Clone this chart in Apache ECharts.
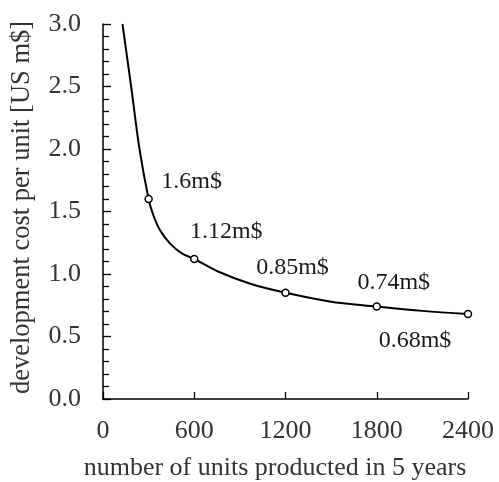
<!DOCTYPE html>
<html>
<head>
<meta charset="utf-8">
<script src="https://cdn.jsdelivr.net/npm/echarts@6/dist/echarts.min.js"></script>
<style>
html,body{margin:0;padding:0;background:#fff;}
#chart{width:499px;height:482px;}
</style>
</head>
<body>
<div id="chart"></div>
<script>
// Data
const curveX = [128, 185, 240, 300, 331, 375, 440, 517, 600, 756, 974, 1200, 1490, 1800, 2100, 2400];
const curveY = [3.0, 2.5, 2.0, 1.6, 1.47, 1.35, 1.245, 1.166, 1.12, 1.02, 0.92, 0.85, 0.78, 0.74, 0.705, 0.68];
const pointX = [300, 600, 1200, 1800, 2400];
const pointY = [1.6, 1.12, 0.85, 0.74, 0.68];
const pointLabels = ['1.6m$', '1.12m$', '0.85m$', '0.74m$', '0.68m$'];
const xTicks = ['0', '600', '1200', '1800', '2400'];
const yTicks = ['0.0', '0.5', '1.0', '1.5', '2.0', '2.5', '3.0'];
const xTitle = 'number of units producted in 5 years';
const yTitle = 'development cost per unit [US m$]';

const FONT = 'Liberation Serif';
const AX = '#333333';
const LB = '#1a1a1a';
const labelOffsets = [[43, -17], [32, -27], [7, -25], [17, -24], [-53, 27]];

const chart = echarts.init(document.getElementById('chart'), null, {renderer: 'canvas'});
chart.setOption({
  animation: false,
  backgroundColor: '#fff',
  grid: {left: 103, right: 31, top: 24, bottom: 83, containLabel: false, outerBoundsMode: 'none'},
  xAxis: {
    type: 'value', min: 0, max: 2400, interval: 600,
    name: xTitle, nameLocation: 'middle', nameGap: 56,
    nameTextStyle: {fontFamily: FONT, fontSize: 26, color: AX, padding: [0, 21, 0, 0]},
    axisLine: {show: true, lineStyle: {color: '#000', width: 1.5}},
    axisTick: {show: true, inside: true, length: 7, lineStyle: {color: '#000', width: 1.3}},
    splitLine: {show: false},
    axisLabel: {fontFamily: FONT, fontSize: 26, color: AX, margin: 19,
      formatter: v => xTicks[Math.round(v / 600)]}
  },
  yAxis: {
    type: 'value', min: 0, max: 3, interval: 0.5,
    name: yTitle, nameLocation: 'middle', nameGap: 67, nameRotate: 90,
    nameTextStyle: {fontFamily: FONT, fontSize: 26.5, color: AX, padding: [0, 0, 0, 8]},
    axisLine: {show: true, lineStyle: {color: '#000', width: 1.5}},
    axisTick: {show: true, inside: true, length: 8, lineStyle: {color: '#000', width: 1.3}},
    minorTick: {show: true, splitNumber: 5, length: 6, lineStyle: {color: '#000', width: 1.3}},
    splitLine: {show: false},
    axisLabel: {fontFamily: FONT, fontSize: 26, color: AX, margin: 22,
      formatter: v => yTicks[Math.round(v / 0.5)]}
  },
  series: [
    {
      type: 'line', smooth: 0.35, showSymbol: false, silent: true,
      data: curveX.map((x, i) => [x, curveY[i]]),
      lineStyle: {color: '#000', width: 2},
      z: 2
    },
    {
      type: 'scatter', symbol: 'circle', symbolSize: 7,
      itemStyle: {color: '#fff', borderColor: '#000', borderWidth: 1.5, opacity: 1},
      data: pointX.map((x, i) => ({
        value: [x, pointY[i]],
        label: {
          show: true, position: 'inside', formatter: pointLabels[i],
          offset: labelOffsets[i], align: 'center', verticalAlign: 'middle',
          fontFamily: FONT, fontSize: 24, color: LB
        }
      })),
      z: 3
    }
  ]
});
</script>
</body>
</html>
